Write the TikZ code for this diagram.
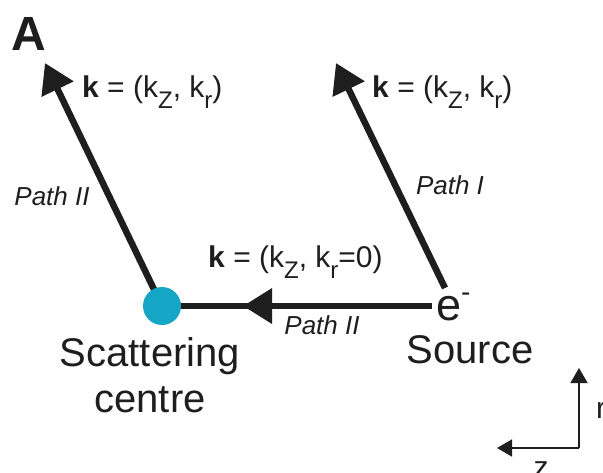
\documentclass[tikz,border=0pt]{standalone}
\usepackage{fontspec}
\setmainfont{Liberation Sans}
\usetikzlibrary{arrows.meta}
\definecolor{scat}{RGB}{20,166,196}
\definecolor{ink}{RGB}{30,30,30}
\newcommand{\kz}{k\raisebox{-0.35em}{\fontsize{24}{24}\selectfont Z}}
\newcommand{\kr}{k\raisebox{-0.35em}{\fontsize{24}{24}\selectfont r}}
\tikzset{
  beam/.style={line width=6.5pt, draw=ink},
  tipbig/.style={-{Triangle[length=29pt,width=34pt]}},
  lab/.style={font=\fontsize{30}{34}\selectfont, text=ink, inner sep=0pt},
  pathlab/.style={font=\fontsize{26}{30}\selectfont\itshape, text=ink, inner sep=0pt},
  biglab/.style={font=\fontsize{40}{46}\selectfont, text=ink, inner sep=0pt, align=center},
  axis/.style={line width=1.6pt, draw=ink, -{Triangle[length=15pt,width=17pt]}},
}
\begin{document}
\begin{tikzpicture}[x=1pt,y=-1pt]
\useasboundingbox (0,0) rectangle (603,472);
\fill[white] (0,0) rectangle (603,472);
\node[font=\fontsize{48}{52}\selectfont\bfseries, text=ink, inner sep=0pt] (A) at (29,34) {A};
% points
\coordinate (sc) at (162,306);
\coordinate (src) at (432,306);
\coordinate (tipL) at (45,63);
\coordinate (tipR) at (336,63);
\coordinate (baseR) at (445,288);
\coordinate (mid) at (243,306);
% beams
\draw[beam, tipbig] (sc) -- (tipL);
\draw[beam, tipbig] (baseR) -- (tipR);
\draw[beam] (src) -- (sc);
\draw[beam, tipbig] (src) -- (mid);
\fill[scat] (sc) circle (19pt);
% labels
\node[lab, anchor=west] (kL) at (82,92) {\textbf{k} = (\kz, \kr)};
\node[lab, anchor=west] (kR) at (372,92) {\textbf{k} = (\kz, \kr)};
\node[lab, anchor=west] (kH) at (208,262) {\textbf{k} = (\kz, \kr=0)};
\node[pathlab] (p2a) at (52,196) {Path II};
\node[pathlab] (p1) at (450,185) {Path I};
\node[pathlab] (p2b) at (322,325) {Path II};
\node[font=\fontsize{45}{50}\selectfont, text=ink, inner sep=0pt, anchor=base west] (e) at (436,320) {e\raisebox{0.42em}{\fontsize{28}{28}\selectfont -}};
\node[biglab] (source) at (470,350) {Source};
\node[biglab] (scatlab) at (150,375) {Scattering\\centre};
% axes
\coordinate (o) at (579,448);
\draw[axis] (o) -- (579,368);
\draw[axis] (o) -- (497,448);
\node[lab] (r) at (601,410) {r};
\node[lab] (z) at (541,470) {z};
\end{tikzpicture}
\end{document}
